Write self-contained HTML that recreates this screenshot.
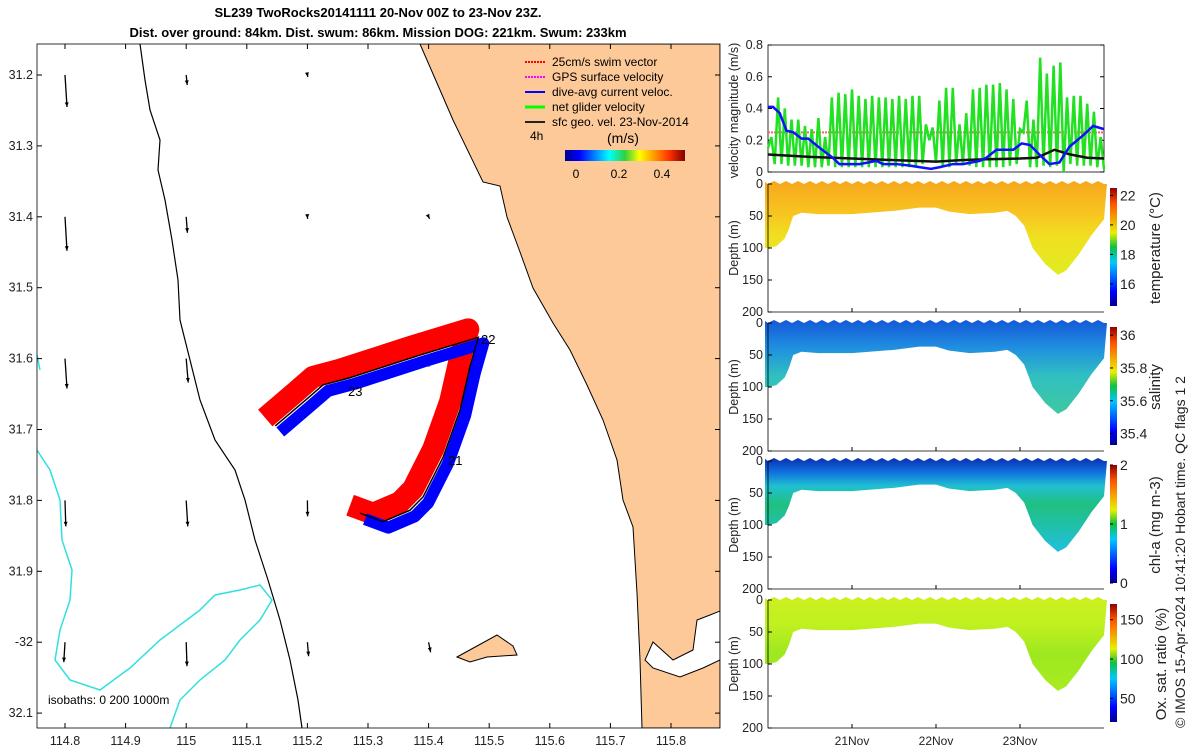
<!DOCTYPE html>
<html><head><meta charset="utf-8"><style>
body{margin:0;background:#fff;}
svg{display:block;font-family:"Liberation Sans","DejaVu Sans",sans-serif;}
</style></head><body>
<svg id="s" width="1200" height="750" viewBox="0 0 1200 750">
<defs>
<linearGradient id="jet" x1="0" x2="1" y1="0" y2="0">
<stop offset="0" stop-color="#00008f"/><stop offset="0.12" stop-color="#0000ff"/><stop offset="0.37" stop-color="#00ffff"/><stop offset="0.5" stop-color="#30d040"/><stop offset="0.62" stop-color="#ffff00"/><stop offset="0.87" stop-color="#ff3000"/><stop offset="1" stop-color="#800000"/></linearGradient>
<linearGradient id="jetv" x1="0" x2="0" y1="1" y2="0">
<stop offset="0" stop-color="#00008f"/><stop offset="0.12" stop-color="#0000ff"/><stop offset="0.37" stop-color="#00c8ff"/><stop offset="0.5" stop-color="#10c040"/><stop offset="0.62" stop-color="#e8f000"/><stop offset="0.87" stop-color="#ff5000"/><stop offset="1" stop-color="#900000"/></linearGradient>
<linearGradient id="gT" x1="0" x2="0" y1="0" y2="1"><stop offset="0" stop-color="#f7a81c"/><stop offset="0.3" stop-color="#f8c020"/><stop offset="0.6" stop-color="#f0e020"/><stop offset="1" stop-color="#e0ec20"/></linearGradient>
<linearGradient id="gS" x1="0" x2="0" y1="0" y2="1"><stop offset="0" stop-color="#1458d8"/><stop offset="0.3" stop-color="#2090e0"/><stop offset="0.6" stop-color="#30c0c0"/><stop offset="1" stop-color="#40c8a0"/></linearGradient>
<linearGradient id="gC" x1="0" x2="0" y1="0" y2="1"><stop offset="0" stop-color="#0a30b0"/><stop offset="0.15" stop-color="#1070e0"/><stop offset="0.3" stop-color="#20c0d0"/><stop offset="0.5" stop-color="#20c080"/><stop offset="1" stop-color="#20c0e0"/></linearGradient>
<linearGradient id="gO" x1="0" x2="0" y1="0" y2="1"><stop offset="0" stop-color="#ccf020"/><stop offset="0.3" stop-color="#c0f020"/><stop offset="0.6" stop-color="#9ee820"/><stop offset="1" stop-color="#a8ec20"/></linearGradient>
<clipPath id="mapclip"><rect x="37" y="44" width="683" height="684"/></clipPath>
</defs>

<text x="378" y="17" text-anchor="middle" font-size="13" font-weight="bold">SL239 TwoRocks20141111 20-Nov 00Z to 23-Nov 23Z.</text>
<text x="378" y="37" text-anchor="middle" font-size="13" font-weight="bold">Dist. over ground: 84km. Dist. swum: 86km. Mission DOG: 221km. Swum: 233km</text>

<g id="map" clip-path="url(#mapclip)"></g>
<rect x="37" y="44" width="683" height="684" fill="none" stroke="#000" stroke-width="0.8"/>
<g id="mapax"></g>

<g font-size="12">
<line x1="525" y1="62" x2="545" y2="62" stroke="#f00" stroke-width="2" stroke-dasharray="2 1"/><text x="552" y="66">25cm/s swim vector</text>
<line x1="525" y1="77" x2="545" y2="77" stroke="#f0f" stroke-width="2" stroke-dasharray="2 1"/><text x="552" y="81">GPS surface velocity</text>
<line x1="525" y1="92" x2="545" y2="92" stroke="#00f" stroke-width="2"/><text x="552" y="96">dive-avg current veloc.</text>
<line x1="525" y1="107" x2="545" y2="107" stroke="#0f0" stroke-width="3"/><text x="552" y="111">net glider velocity</text>
<line x1="525" y1="122" x2="545" y2="122" stroke="#222" stroke-width="2"/><text x="552" y="126">sfc geo. vel. 23-Nov-2014</text>
<text x="530" y="140">4h</text>
<text x="607" y="143" font-size="14">(m/s)</text>
<rect x="565" y="150" width="120" height="11" fill="url(#jet)"/>
<text x="576" y="178" text-anchor="middle">0</text><text x="619" y="178" text-anchor="middle">0.2</text><text x="662" y="178" text-anchor="middle">0.4</text>
</g>
<text x="48" y="704" font-size="12">isobaths: 0   200  1000m</text>

<g id="right"></g>
<text transform="translate(1185,728) rotate(-90)" font-size="14" fill="#222">© IMOS 15-Apr-2024 10:41:20 Hobart time. QC flags 1  2</text>
</svg>
<script>
// ---------- data ----------
const trackLon = [115.287,115.325,115.369,115.391,115.424,115.452,115.468,115.482,115.386,115.270,115.226,115.199,115.147];
const trackLat = [31.818,31.830,31.814,31.795,31.739,31.672,31.612,31.570,31.595,31.627,31.637,31.657,31.695];
const vecLon = [114.8,115.0,115.2,114.8,115.0,115.2,115.4,114.8,115.0,115.4,114.8,115.0,115.2,115.4,114.8,115.0,115.2,115.4];
const vecLat = [31.2,31.2,31.2,31.4,31.4,31.4,31.4,31.6,31.6,31.6,31.8,31.8,31.8,31.8,32.0,32.0,32.0,32.0];
const vecU = [0.01,0.005,0.002,0.01,0.006,0.001,0.005,0.01,0.01,0.002,0.004,0.008,0.001,0.002,-0.006,0.004,0.006,0.01];
const vecV = [-0.16,-0.05,-0.01,-0.17,-0.08,-0.01,-0.01,-0.15,-0.12,-0.04,-0.13,-0.13,-0.08,-0.04,-0.1,-0.12,-0.07,-0.05];
const lonTicks = [114.8,114.9,115,115.1,115.2,115.3,115.4,115.5,115.6,115.7,115.8];
const latTicks = [31.2,31.3,31.4,31.5,31.6,31.7,31.8,31.9,32.0,32.1];
const latLabels = ["31.2","31.3","31.4","31.5","31.6","31.7","31.8","31.9","-32","32.1"];

const greenVals = [0.15,0.22,0.05,0.47,0.05,0.4,0.04,0.33,0.04,0.33,0.04,0.29,0.03,0.27,0.03,0.34,0.03,0.22,0.04,0.47,0.03,0.5,0.03,0.49,0.03,0.52,0.03,0.48,0.03,0.46,0.03,0.48,0.03,0.47,0.03,0.47,0.03,0.46,0.03,0.48,0.03,0.46,0.03,0.48,0.03,0.48,0.05,0.3,0.2,0.28,0.06,0.45,0.03,0.53,0.03,0.53,0.05,0.3,0.05,0.37,0.04,0.52,0.03,0.53,0.03,0.55,0.03,0.55,0.03,0.56,0.03,0.52,0.04,0.46,0.05,0.27,0.25,0.45,0.03,0.33,0.03,0.72,0.04,0.62,0.03,0.67,0.04,0.69,0.0,0.47,0.05,0.48,0.04,0.48,0.04,0.43,0.04,0.38,0.03,0.22,0.02];
const blueDay = [0,0.06,0.14,0.22,0.3,0.4,0.48,0.62,0.77,0.85,1.09,1.29,1.37,1.53,1.69,1.81,1.94,2.04,2.2,2.32,2.52,2.6,2.72,2.92,3.02,3.12,3.23,3.35,3.47,3.59,3.75,3.87,4.0];
const blueVal = [0.41,0.41,0.37,0.26,0.25,0.21,0.21,0.15,0.09,0.05,0.05,0.07,0.05,0.05,0.04,0.03,0.02,0.03,0.05,0.05,0.07,0.09,0.14,0.14,0.18,0.17,0.11,0.05,0.06,0.16,0.23,0.29,0.27];
const blackDay = [0,0.5,1.0,1.5,2.0,2.3,2.6,3.0,3.2,3.41,3.6,3.8,4.0];
const blackVal = [0.11,0.095,0.085,0.075,0.065,0.075,0.08,0.085,0.09,0.14,0.11,0.09,0.085];
const swimSpeed = 0.25;
const velTicks = [0,0.2,0.4,0.6,0.8];
const sectDay = [0,0.1,0.2,0.25,0.3,0.4,0.6,1.0,1.5,1.8,2.0,2.15,2.4,2.7,2.85,2.95,3.05,3.15,3.3,3.45,3.55,3.7,3.85,4.0];
const sectDepth = [100,97,85,70,50,45,47,47,42,37,37,43,47,45,42,50,65,100,125,142,135,110,80,55];
const depthTicks = [0,50,100,150,200];
const dateTicks = [1,2,3];
const dateLabels = ["21Nov","22Nov","23Nov"];
const tempTicks = [16,18,20,22]; const tempRange=[14.5,22.5];
const salTicks = [35.4,35.6,35.8,36]; const salRange=[35.33,36.05];
const chlTicks = [0,1,2]; const chlRange=[0,2];
const oxTicks = [50,100,150]; const oxRange=[20,170];

// ---------- helpers ----------
const NS="http://www.w3.org/2000/svg";
function mk(tag,attrs,parent){const e=document.createElementNS(NS,tag);for(const k in attrs)e.setAttribute(k,attrs[k]);parent.appendChild(e);return e;}
const lonX = lon => 65 + (lon-114.8)*606;
const latY = lat => 75 + (lat-31.2)*709;

const map=document.getElementById('map');
// land
let land=mk('path',{d:"M420,44 L430,67 453,120 483,182 500,186 507,217 520,252 533,288 553,323 570,350 587,385 603,420 617,460 623,500 633,527 637,593 640,660 642,728 720,728 720,44 Z",fill:"#fdc998",stroke:"#000","stroke-width":"1"},map);


let est=mk('path',{d:"M653,642 L673,660 693,650 697,620 710,615 720,611 720,660 703,668 680,677 653,668 645,660 Z",fill:"#fff",stroke:"#000","stroke-width":"1"},map);


let isl=mk('path',{d:"M457,657 L477,646 497,635 513,646 517,655 487,657 470,662 Z",fill:"#fdc998",stroke:"#000","stroke-width":"1"},map);


// isobaths
let iso200=mk('path',{d:"M140,44 L145,80 150,110 160,140 158,170 165,200 172,240 178,280 180,320 190,360 200,400 215,440 235,470 245,500 255,540 268,580 280,620 290,660 298,700 302,728",fill:"none",stroke:"#000","stroke-width":"1.2"},map);


let iso1000=mk('path',{d:"M37,450 L50,470 60,500 62,540 72,570 70,600 60,630 55,660 70,680 100,690 130,668 160,640 200,610 215,595 240,590 260,585 272,600 260,620 240,640 225,660 200,680 180,700 170,728 M37,355 L40,370",fill:"none",stroke:"#30e0e0","stroke-width":"1.5"},map);


// vectors
for(let i=0;i<vecLon.length;i++){
  const x=lonX(vecLon[i]),y=latY(vecLat[i]);
  const x2=x+vecU[i]*200,y2=y-vecV[i]*200;
  const g=mk('g',{},map);
  
  
  mk('line',{x1:x,y1:y,x2:x2,y2:y2,stroke:"#000","stroke-width":"1.3"},g);
  const ang=Math.atan2(y2-y,x2-x);
  mk('path',{d:`M${x2},${y2} L${x2-5*Math.cos(ang-0.4)},${y2-5*Math.sin(ang-0.4)} L${x2-5*Math.cos(ang+0.4)},${y2-5*Math.sin(ang+0.4)} Z`,fill:"#000"},g);
}
// track swaths
const pts=trackLon.map((l,i)=>[lonX(l),latY(trackLat[i])]);
const ptsStr=off=>pts.map(p=>`${p[0]+off[0]},${p[1]+off[1]}`).join(' ');
let red=mk('polyline',{points:ptsStr([-10,-8]),fill:"none",stroke:"#ff0000","stroke-width":"22","stroke-linejoin":"round"},map);


let blue=mk('polyline',{points:ptsStr([5,6]),fill:"none",stroke:"#0000ff","stroke-width":"12","stroke-linejoin":"round"},map);


let trk=mk('polyline',{points:ptsStr([0,0]),fill:"none",stroke:"#000","stroke-width":"1.5"},map);


[["21",448,465],["22",481,344],["23",348,396]].forEach(d=>{const t=mk('text',{x:d[1],y:d[2],"font-size":"13"},map);t.textContent=d[0];});
// map axes
const ax=document.getElementById('mapax');
lonTicks.forEach(v=>{const x=lonX(v);mk('line',{x1:x,y1:728,x2:x,y2:723,stroke:"#000"},ax);mk('line',{x1:x,y1:44,x2:x,y2:49,stroke:"#000"},ax);
 const t=mk('text',{x:x,y:745,"text-anchor":"middle","font-size":"12.5",fill:"#222"},ax);t.textContent=String(v);});
latTicks.forEach((v,i)=>{const y=latY(v);mk('line',{x1:37,y1:y,x2:42,y2:y,stroke:"#000"},ax);mk('line',{x1:720,y1:y,x2:715,y2:y,stroke:"#000"},ax);
 const t=mk('text',{x:33,y:y+4,"text-anchor":"end","font-size":"12.5",fill:"#222"},ax);t.textContent=latLabels[i];});

// ---------- right panels ----------
const R=document.getElementById('right');
const X0=768,X1=1104;
const dX=d=>X0+d*(X1-X0)/4;
// velocity panel
const vT=45,vB=172;
const vY=v=>vB-v/0.8*(vB-vT);
let vp=mk('g',{},R);
mk('rect',{x:X0,y:vT,width:X1-X0,height:vB-vT,fill:"#fff",stroke:"#000","stroke-width":"0.8"},vp);
velTicks.forEach(v=>{const y=vY(v);mk('line',{x1:X0,y1:y,x2:X0+4,y2:y,stroke:"#000"},vp);mk('line',{x1:X1,y1:y,x2:X1-4,y2:y,stroke:"#000"},vp);
 const t=mk('text',{x:X0-5,y:y+4,"text-anchor":"end","font-size":"12.5",fill:"#222"},vp);t.textContent=String(v);});
let sl=mk('line',{x1:X0,y1:vY(swimSpeed),x2:X1,y2:vY(swimSpeed),stroke:"#ff6060","stroke-width":"2","stroke-dasharray":"2 1"},vp);

let gl=mk('polyline',{points:greenVals.map((v,i)=>`${dX(i*4/(greenVals.length-1))},${vY(v)}`).join(' '),fill:"none",stroke:"#22e022","stroke-width":"2.5"},vp);

let bl=mk('polyline',{points:blackDay.map((d,i)=>`${dX(d)},${vY(blackVal[i])}`).join(' '),fill:"none",stroke:"#111","stroke-width":"2.5"},vp);

let bu=mk('polyline',{points:blueDay.map((d,i)=>`${dX(d)},${vY(blueVal[i])}`).join(' '),fill:"none",stroke:"#1010ff","stroke-width":"2.5"},vp);

let vl=mk('text',{transform:`translate(738,${(vT+vB)/2+2}) rotate(-90)`,"text-anchor":"middle","font-size":"12.5",fill:"#222"},vp);vl.textContent="velocity magnitude (m/s)";

const sections=[
 {top:184,fill:"url(#gT)",name:"temperature",label:"temperature (°C)",ticks:tempTicks,range:tempRange},
 {top:323,fill:"url(#gS)",name:"salinity",label:"salinity",ticks:salTicks,range:salRange},
 {top:461,fill:"url(#gC)",name:"chlorophyll",label:"chl-a (mg m-3)",ticks:chlTicks,range:chlRange},
 {top:600,fill:"url(#gO)",name:"oxygen",label:"Ox. sat. ratio (%)",ticks:oxTicks,range:oxRange}];
sections.forEach((s,si)=>{
 const H=128,dY=d=>s.top+d/200*H;
 const g=mk('g',{},R);
 
 
 mk('rect',{x:X0,y:s.top,width:X1-X0,height:H,fill:"#fff"},g);
 let d=`M${dX(0)-3},${dY(0)-2} `;
 for(let k=0;k<=56;k++){d+=`L${dX(k*4/56)},${dY(0)-(k%2?3:0)} `;}
 d+=`L${dX(4)+3},${dY(0)} `;
 for(let i=sectDay.length-1;i>=0;i--)d+=`L${dX(sectDay[i])},${dY(sectDepth[i])} `;
 d+=`L${dX(0)-3},${dY(sectDepth[0])} Z`;
 const p=mk('path',{d:d,fill:s.fill},g);
 
 
 mk('path',{d:`M${X0},${s.top} V${s.top+H} H${X1}`,fill:"none",stroke:"#000","stroke-width":"0.8"},g);
 depthTicks.forEach(v=>{const y=dY(v);mk('line',{x1:X0,y1:y,x2:X0+4,y2:y,stroke:"#000"},g);
  const t=mk('text',{x:X0-5,y:y+4,"text-anchor":"end","font-size":"12.5",fill:"#222"},g);t.textContent=String(v);});
 dateTicks.forEach(v=>{mk('line',{x1:dX(v),y1:s.top+H,x2:dX(v),y2:s.top+H-4,stroke:"#000"},g);});
 const yl=mk('text',{transform:`translate(738,${s.top+H/2}) rotate(-90)`,"text-anchor":"middle","font-size":"12.5",fill:"#222"},g);yl.textContent="Depth (m)";
 // colorbar
 const cT=s.top+4,cB=s.top+H-6;
 const cb=mk('rect',{x:1110,y:cT,width:7,height:cB-cT,fill:"url(#jetv)"},g);
 
 
 s.ticks.forEach(v=>{const y=cB-(v-s.range[0])/(s.range[1]-s.range[0])*(cB-cT);
  mk('line',{x1:1110,y1:y,x2:1113,y2:y,stroke:"#000"},g);
  const t=mk('text',{x:1120,y:y+5,"font-size":"14",fill:"#222"},g);t.textContent=String(v);});
 const cl=mk('text',{transform:`translate(${si==3?1166:1160},${s.top+H/2}) rotate(-90)`,"text-anchor":"middle","font-size":"15",fill:"#222"},g);cl.textContent=s.label;
});
dateTicks.forEach((v,i)=>{const t=mk('text',{x:dX(v),y:745,"text-anchor":"middle","font-size":"12",fill:"#222"},R);t.textContent=dateLabels[i];
 });
</script>
</body></html>
